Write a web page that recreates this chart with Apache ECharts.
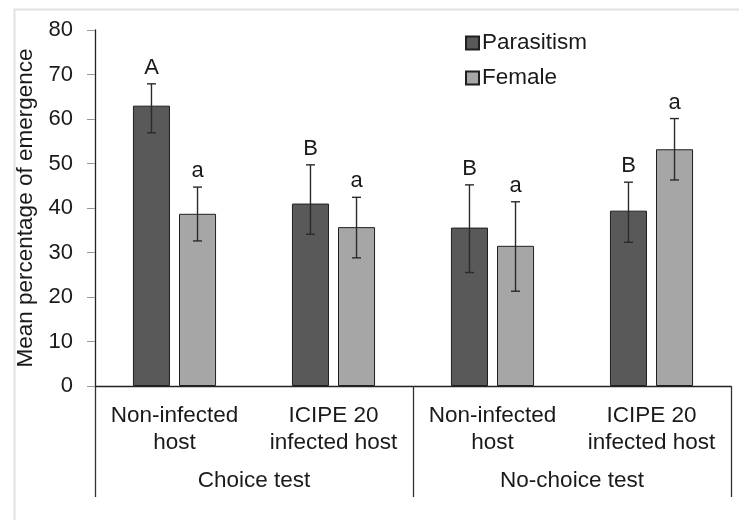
<!DOCTYPE html>
<html>
<head>
<meta charset="utf-8">
<script src="https://cdn.jsdelivr.net/npm/echarts@6/dist/echarts.min.js"></script>
<style>
  html, body { margin: 0; padding: 0; background: #fff; }
  #chart { width: 739px; height: 520px; }
</style>
</head>
<body>
<div id="chart"></div>
<script>
// data
var categories = ["Non-infected\nhost", "ICIPE 20\ninfected host", "Non-infected\nhost", "ICIPE 20\ninfected host"];
var groups = ["Choice test", "No-choice test"];

var parasitism = [63, 41, 35.6, 39.4];
var parasitismLow = [56.9, 34.1, 25.5, 32.3];
var parasitismHigh = [67.9, 49.7, 45.2, 45.8];
var parasitismLetters = ["A", "B", "B", "B"];

var female = [38.7, 35.7, 31.5, 53.2];
var femaleLow = [32.6, 28.8, 21.3, 46.3];
var femaleHigh = [44.7, 42.4, 41.4, 60.1];
var femaleLetters = ["a", "a", "a", "a"];

var yTicks = [0, 10, 20, 30, 40, 50, 60, 70, 80];

var FONT = "Liberation Sans, Arial, sans-serif";
var TXT = "#1a1a1a";
var FS = 22.5;
var BAR_W = 0.233;   // share of the category band
var BAR_GAP = 0.243; // share of a bar

var chart = echarts.init(document.getElementById("chart"));

// error bar + letter, shifted onto the bar of one series
function errRender(side, letters) {
    return function (params, api) {
        var i = api.value(0);
        var band = api.size([1, 0])[0];
        var bw = band * BAR_W;
        var off = side * (bw + bw * BAR_GAP) / 2;
        var hi = api.coord([i, api.value(2)]);
        var lo = api.coord([i, api.value(1)]);
        var x = hi[0] + off;
        var cap = 4.5;
        var st = { stroke: "#2a2a2a", lineWidth: 1.4 };
        return {
            type: "group",
            children: [
                { type: "line", shape: { x1: x, y1: hi[1], x2: x, y2: lo[1] }, style: st },
                { type: "line", shape: { x1: x - cap, y1: hi[1], x2: x + cap, y2: hi[1] }, style: st },
                { type: "line", shape: { x1: x - cap, y1: lo[1], x2: x + cap, y2: lo[1] }, style: st },
                {
                    type: "text",
                    style: {
                        x: x, y: hi[1] - 5, text: letters[i],
                        fill: TXT, font: "22px " + FONT,
                        align: "center", verticalAlign: "bottom"
                    }
                }
            ]
        };
    };
}

var option = {
    backgroundColor: "#fff",
    animation: false,
    textStyle: { fontFamily: FONT },
    graphic: [
        {
            type: "rect", left: 12, top: 7, silent: true,
            shape: { width: 800, height: 600 },
            style: { fill: "none", stroke: "#e2e2e2", lineWidth: 2 }
        }
    ],
    legend: {
        data: ["Parasitism", "Female"],
        orient: "vertical",
        left: 465, top: 31,
        padding: 0,
        itemWidth: 13, itemHeight: 13, itemGap: 11,
        icon: "rect",
        textStyle: { fontSize: FS, color: TXT, fontFamily: FONT, lineHeight: 24, padding: [0, 0, 0, -2] }
    },
    grid: { left: 95, right: 8, top: 30, bottom: 134 },
    xAxis: [
        {
            type: "category",
            data: categories,
            axisLine: { show: true, lineStyle: { color: "#222", width: 1.3 } },
            axisTick: { show: false },
            axisLabel: { color: TXT, fontSize: FS, lineHeight: 27, margin: 16, interval: 0 }
        },
        {
            type: "category",
            data: groups,
            position: "bottom",
            offset: 111,
            axisLine: { show: false },
            axisTick: { show: true, inside: true, length: 111, lineStyle: { color: "#333", width: 1.3 } },
            axisLabel: { color: TXT, fontSize: FS, margin: -28 }
        }
    ],
    yAxis: {
        type: "value",
        min: yTicks[0], max: yTicks[yTicks.length - 1], interval: 10,
        name: "Mean percentage of emergence",
        nameLocation: "middle",
        nameGap: 57,
        nameTextStyle: { fontSize: FS, color: TXT },
        axisLine: { show: true, lineStyle: { color: "#222", width: 1.3 } },
        axisTick: { show: true, length: 8, lineStyle: { color: "#999" } },
        axisLabel: { color: TXT, fontSize: 22, margin: 22 },
        splitLine: { show: false }
    },
    series: [
        {
            name: "Parasitism", type: "bar", data: parasitism,
            barWidth: (BAR_W * 100) + "%", barGap: (BAR_GAP * 100) + "%",
            itemStyle: { color: "#595959", borderColor: "#1f1f1f", borderWidth: 1 }
        },
        {
            name: "Female", type: "bar", data: female,
            barWidth: (BAR_W * 100) + "%", barGap: (BAR_GAP * 100) + "%",
            itemStyle: { color: "#a6a6a6", borderColor: "#1f1f1f", borderWidth: 1 }
        },
        {
            name: "errParasitism", type: "custom", z: 5,
            renderItem: errRender(-1, parasitismLetters),
            data: parasitism.map(function (v, i) { return [i, parasitismLow[i], parasitismHigh[i]]; })
        },
        {
            name: "errFemale", type: "custom", z: 5,
            renderItem: errRender(1, femaleLetters),
            data: female.map(function (v, i) { return [i, femaleLow[i], femaleHigh[i]]; })
        }
    ]
};

chart.setOption(option);
</script>
</body>
</html>
